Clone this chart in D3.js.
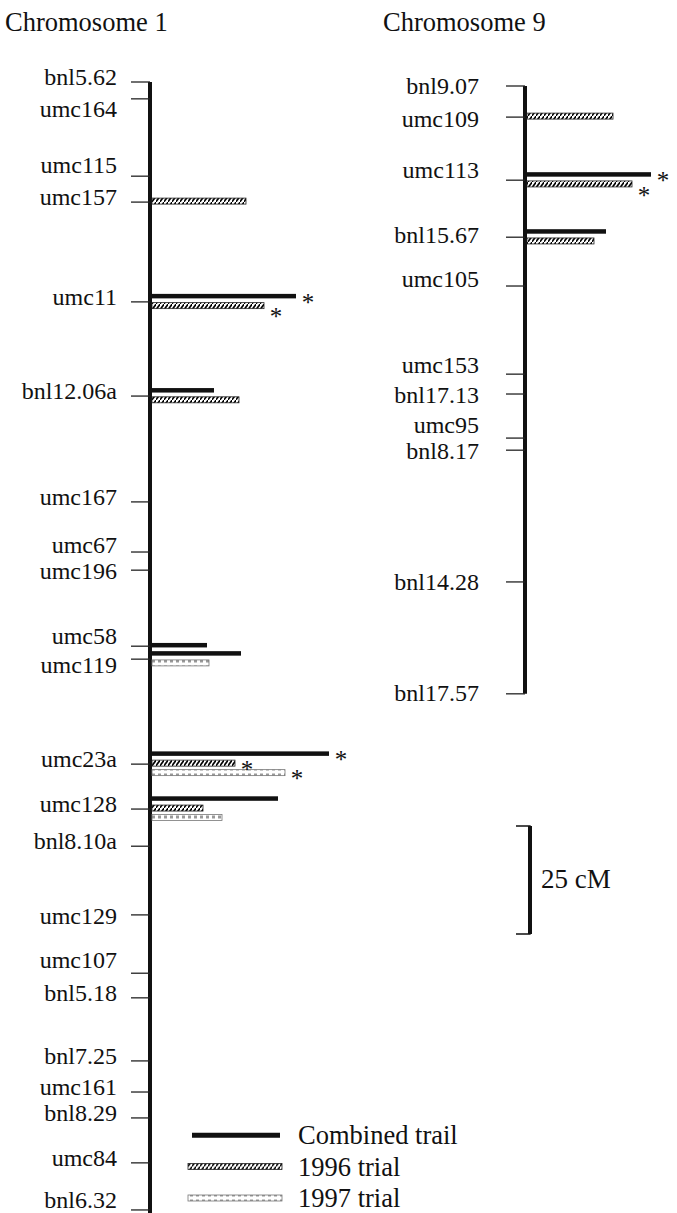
<!DOCTYPE html>
<html>
<head>
<meta charset="utf-8">
<title>QTL map, chromosomes 1 and 9</title>
<script src="https://cdn.jsdelivr.net/npm/d3@7"></script>
<style>
  body { margin: 0; background: #fff; }
  text { font-family: "Liberation Serif", "Times New Roman", serif; fill: #111; }
</style>
</head>
<body>
<div id="chart"></div>
<script>
// ---- data ----
var chr1Markers = ["bnl5.62", "umc164", "umc115", "umc157", "umc11", "bnl12.06a", "umc167", "umc67",
  "umc196", "umc58", "umc119", "umc23a", "umc128", "bnl8.10a", "umc129", "umc107", "bnl5.18",
  "bnl7.25", "umc161", "bnl8.29", "umc84", "bnl6.32"];
var chr1Pos = [0, 3.9, 21.8, 27.8, 50.9, 72.7, 97.2, 108.8, 113.0, 130.6, 133.6, 157.9, 168.3,
  176.9, 192.8, 206.3, 212.0, 226.6, 233.8, 239.8, 250.2, 261.1];

var chr9Markers = ["bnl9.07", "umc109", "umc113", "bnl15.67", "umc105", "umc153", "bnl17.13",
  "umc95", "bnl8.17", "bnl14.28", "bnl17.57"];
var chr9Pos = [0, 7.2, 21.8, 35.0, 46.3, 66.7, 71.3, 81.5, 84.3, 114.8, 140.7];

// QTL effects (bar lengths) at the markers that show one
var chr1QtlMarkers = ["umc157", "umc11", "bnl12.06a", "umc58", "umc119", "umc23a", "umc128"];
var chr1Combined  = [null, 7.2, 3.1, 2.75, 4.45, 8.85, 6.3];
var chr1Trial1996 = [4.7, 5.6, 4.35, null, null, 4.15, 2.55];
var chr1Trial1997 = [null, null, null, null, 2.85, 6.65, 3.5];
var chr1Signif = [[], ["combined", "1996"], [], [], [], ["combined", "1996", "1997"], []];

var chr9QtlMarkers = ["umc109", "umc113", "bnl15.67"];
var chr9Combined  = [null, 6.2, 3.95];
var chr9Trial1996 = [4.3, 5.25, 3.35];
var chr9Trial1997 = [null, null, null];
var chr9Signif = [[], ["combined", "1996"], []];

var seriesKeys = ["combined", "1996", "1997"];
var seriesNames = ["Combined trail", "1996 trial", "1997 trial"];
var scaleBarCM = 25;

// ---- layout ----
var width = 677, height = 1213;
var cm = d3.scaleLinear().domain([0, 25]).range([0, 108]);
var lod = d3.scaleLinear().domain([0, 10]).range([0, 200]);

// small vertical nudges for marker names (the original spreads crowded labels)
var chr1Nudge = { "umc164": 15, "umc115": -6, "umc67": -2, "umc196": 6, "umc58": -5, "umc119": 11,
  "umc129": 6, "umc107": -8, "bnl6.32": -5 };
var chr9Nudge = { "bnl9.07": 5, "umc109": 7, "umc113": -5, "bnl15.67": 3, "umc105": -2, "umc153": -4,
  "bnl17.13": 6, "umc95": -8, "bnl8.17": 6, "bnl14.28": 5, "bnl17.57": 4 };

var svg = d3.select('#chart').append('svg')
  .attr('width', width)
  .attr('height', height);

var defs = svg.append('defs');
var p96 = defs.append('pattern')
  .attr('id', 'hatch96').attr('patternUnits', 'userSpaceOnUse')
  .attr('width', 4).attr('height', 6);
p96.append('rect').attr('width', 4).attr('height', 6).attr('fill', '#fff');
p96.append('path').attr('d', 'M-1,7 L5,-1').attr('stroke', '#000').attr('stroke-width', 1.7);

var p97 = defs.append('pattern')
  .attr('id', 'dots97').attr('patternUnits', 'userSpaceOnUse')
  .attr('width', 6).attr('height', 6);
p97.append('rect').attr('width', 6).attr('height', 6).attr('fill', '#fff');
p97.append('rect').attr('x', 2).attr('y', 1.5).attr('width', 3).attr('height', 3).attr('fill', '#999');

var barStyle = {
  "combined": { fill: '#111', stroke: 'none', h: 4.5 },
  "1996": { fill: 'url(#hatch96)', stroke: '#222', h: 6 },
  "1997": { fill: 'url(#dots97)', stroke: '#777', h: 6 }
};

var astSize = 25;

function drawChromosome(cfg) {
  var g = svg.append('g').attr('transform', 'translate(0,' + cfg.top + ')');

  svg.append('text')
    .attr('x', cfg.titleX).attr('y', 31)
    .attr('font-size', 26.5)
    .text(cfg.title);

  // chromosome bar
  g.append('line')
    .attr('x1', cfg.axisX).attr('x2', cfg.axisX)
    .attr('y1', cm(0)).attr('y2', cm(d3.max(cfg.pos)) + (cfg.extend || 0))
    .attr('stroke', '#111').attr('stroke-width', 4);

  var markers = cfg.markers.map(function(m, i) { return { name: m, pos: cfg.pos[i] }; });

  g.selectAll('line.tick')
    .data(markers)
    .enter().append('line')
    .attr('class', 'tick')
    .attr('x1', cfg.axisX - 19).attr('x2', cfg.axisX)
    .attr('y1', function(d) { return cm(d.pos); })
    .attr('y2', function(d) { return cm(d.pos); })
    .attr('stroke', '#222').attr('stroke-width', 1.3);

  g.selectAll('text.marker')
    .data(markers)
    .enter().append('text')
    .attr('class', 'marker')
    .attr('x', cfg.labelX)
    .attr('y', function(d) { return cm(d.pos) + 3 + (cfg.nudge[d.name] || 0); })
    .attr('text-anchor', 'end')
    .attr('font-size', 24)
    .text(function(d) { return d.name; });

  // QTL bars
  var rows = [];
  cfg.qtl.forEach(function(m, i) {
    var y0 = cm(cfg.pos[cfg.markers.indexOf(m)]);
    var vals = [cfg.combined[i], cfg.t1996[i], cfg.t1997[i]];
    var present = seriesKeys.map(function(k, j) { return { key: k, v: vals[j] }; })
      .filter(function(d) { return d.v != null; });
    var n = present.length;
    present.forEach(function(d, j) {
      d.cy = y0 + (j - (n - 1) / 2) * 9.5 - 1;
      d.sig = cfg.signif[i].indexOf(d.key) >= 0;
      d.prev = j > 0 ? present[j - 1] : null;
      rows.push(d);
    });
  });

  var x0 = cfg.axisX + 2;
  g.selectAll('rect.qtl')
    .data(rows)
    .enter().append('rect')
    .attr('class', 'qtl')
    .attr('x', x0)
    .attr('y', function(d) { return d.cy - barStyle[d.key].h / 2; })
    .attr('width', function(d) { return lod(d.v); })
    .attr('height', function(d) { return barStyle[d.key].h; })
    .attr('fill', function(d) { return barStyle[d.key].fill; })
    .attr('stroke', function(d) { return barStyle[d.key].stroke; })
    .attr('stroke-width', 0.8);

  g.selectAll('text.sig')
    .data(rows.filter(function(d) { return d.sig; }))
    .enter().append('text')
    .attr('class', 'sig')
    .attr('x', function(d) { return x0 + lod(d.v) + 12; })
    .attr('y', function(d) {
      var crowded = d.prev && d.prev.sig && Math.abs(lod(d.prev.v) - lod(d.v)) < 40;
      return d.cy + 3 + (crowded ? 5 : 0) + astSize * 0.47;
    })
    .attr('text-anchor', 'middle')
    .attr('font-size', astSize)
    .text('*');
}

drawChromosome({
  title: 'Chromosome 1', titleX: 5, top: 82, axisX: 150, labelX: 117, extend: 6,
  markers: chr1Markers, pos: chr1Pos, nudge: chr1Nudge,
  qtl: chr1QtlMarkers, combined: chr1Combined, t1996: chr1Trial1996, t1997: chr1Trial1997, signif: chr1Signif
});

drawChromosome({
  title: 'Chromosome 9', titleX: 383, top: 86, axisX: 525, labelX: 479,
  markers: chr9Markers, pos: chr9Pos, nudge: chr9Nudge,
  qtl: chr9QtlMarkers, combined: chr9Combined, t1996: chr9Trial1996, t1997: chr9Trial1997, signif: chr9Signif
});

// scale bar
var sb = svg.append('g').attr('transform', 'translate(530,826)');
sb.append('path')
  .attr('d', 'M-14,0 H0 V' + cm(scaleBarCM) + ' H-14')
  .attr('fill', 'none').attr('stroke', '#111').attr('stroke-width', 1.3);
sb.append('line')
  .attr('x1', 0).attr('x2', 0).attr('y1', 0).attr('y2', cm(scaleBarCM))
  .attr('stroke', '#111').attr('stroke-width', 4);
sb.append('text')
  .attr('x', 11).attr('y', 62)
  .attr('font-size', 27)
  .text(scaleBarCM + ' cM');

// legend
var legend = svg.append('g').attr('transform', 'translate(188,1135)');
var items = legend.selectAll('g.item')
  .data(seriesKeys)
  .enter().append('g')
  .attr('class', 'item')
  .attr('transform', function(d, i) { return 'translate(0,' + (i * 31.5) + ')'; });

items.append('rect')
  .attr('x', function(d) { return d === 'combined' ? 4 : 0; })
  .attr('y', function(d) { return -barStyle[d].h / 2; })
  .attr('width', function(d) { return d === 'combined' ? 88 : 94; })
  .attr('height', function(d) { return d === 'combined' ? 5 : barStyle[d].h; })
  .attr('fill', function(d) { return barStyle[d].fill; })
  .attr('stroke', function(d) { return barStyle[d].stroke; })
  .attr('stroke-width', 0.8);

items.append('text')
  .attr('x', 110).attr('y', 9)
  .attr('font-size', 26.5)
  .text(function(d, i) { return seriesNames[i]; });
</script>
</body>
</html>
